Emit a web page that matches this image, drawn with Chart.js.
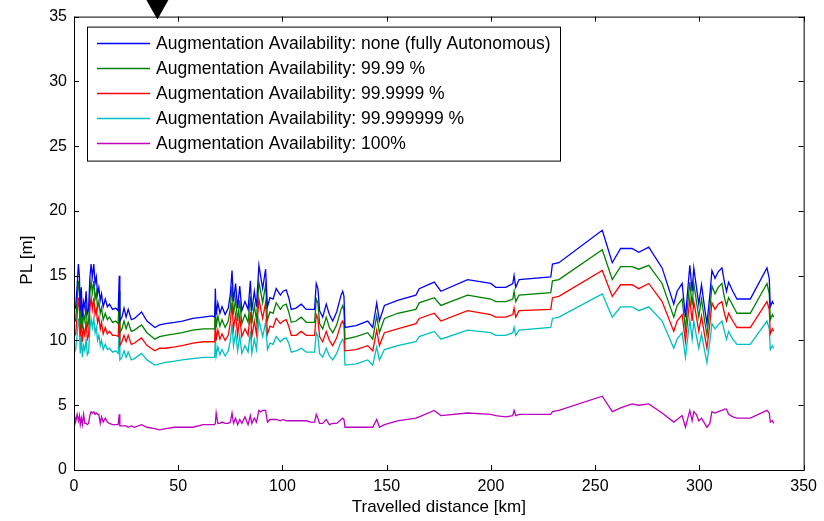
<!DOCTYPE html>
<html><head><meta charset="utf-8">
<script src="https://cdn.jsdelivr.net/npm/chart.js@4"></script>
<style>html,body{margin:0;padding:0;background:#fff}#wrap{width:824px;height:521px}</style>
</head><body><div id="wrap"><canvas id="c" width="824" height="521"></canvas></div>
<script>
const distanceKm = [0,0.8,1.5,2.1,2.6,3.0,3.5,4.0,4.6,5.2,
5.8,6.4,7.0,7.6,8.2,8.8,9.5,10.1,10.7,11.3,
11.9,12.6,13.2,14.0,15.0,16.0,17.0,18.5,20.0,21.2,
21.7,22.0,23.0,24.0,25.0,26.0,27.5,29.0,32.4,35.0,
38.8,41.0,44.0,48.3,52.0,57.0,62.0,66.3,67.5,67.8,
68.2,69.0,70.0,71.0,72.5,74.0,75.0,75.8,76.5,77.5,
78.5,79.5,80.5,82.0,83.5,84.6,85.3,86.5,87.5,88.7,
89.5,90.5,91.9,92.8,94.0,95.5,97.0,99.0,100.3,101.8,
103.0,104.2,106.5,109.0,111.4,113.5,115.4,116.2,117.0,117.8,
119.3,121.0,122.5,124.1,126.0,128.1,128.9,129.5,130.0,135.3,
140.9,143.3,145.2,146.5,148.9,155.2,164.0,165.6,172.8,176.0,
188.8,199.9,202.3,207.1,210.5,211.1,211.9,213.5,228.7,229.5,
232.6,253.4,258.2,262.2,267.7,270.9,275.7,282.1,287.7,289.3,
291.7,293.3,295.4,296.5,297.3,298.5,299.7,301.0,302.5,303.6,
305.0,306.0,307.5,309.0,310.8,312.0,313.0,314.0,316.0,318.0,
324.4,332.4,333.5,334.0,335.0,335.6];

const plNone = [12.3,12.6,14.2,15.9,15.0,12.3,14.1,11.8,13.0,12.5,
13.8,12.1,12.4,14.8,15.9,14.9,15.9,14.4,14.9,13.6,
14.1,13.1,13.6,12.6,13.2,12.6,12.8,12.4,12.5,12.3,
15.0,11.5,11.8,12.5,11.8,12.4,11.6,11.7,12.2,11.5,
11.0,11.2,11.3,11.4,11.5,11.7,11.8,11.9,11.8,14.0,
12.0,12.9,12.1,12.6,12.0,12.5,13.6,15.4,13.0,14.4,
12.5,14.2,12.3,13.0,12.4,14.6,12.3,13.8,12.6,15.8,
15.0,14.0,15.5,12.6,13.3,13.2,14.0,13.5,13.8,13.9,
13.3,12.4,12.5,12.8,12.4,12.4,12.4,14.4,14.0,12.3,
11.8,12.8,12.0,11.5,12.2,13.5,13.8,13.4,11.0,11.15,
11.5,11.0,12.9,11.5,12.7,13.1,13.5,14.0,14.5,13.8,
14.7,14.4,14.1,14.1,14.4,15.0,14.1,14.7,14.9,15.9,
16.0,18.5,16.0,17.1,17.1,16.8,17.2,15.6,12.8,13.8,
14.4,11.8,15.8,13.8,15.6,14.2,12.8,14.3,12.5,11.3,
13.5,15.4,14.8,15.3,15.6,14.5,13.8,14.5,13.8,13.2,
13.2,15.6,14.8,12.6,13.0,12.8];

const pl9999 = [11.3,11.6,13.1,14.6,13.8,11.3,13.0,10.9,12.0,11.5,
12.7,11.1,11.4,13.6,14.6,13.7,14.6,13.2,13.7,12.5,
13.0,12.1,12.5,11.6,12.1,11.6,11.8,11.4,11.5,11.3,
13.8,10.6,10.9,11.5,10.9,11.4,10.7,10.8,11.2,10.6,
10.1,10.3,10.4,10.5,10.6,10.8,10.9,10.9,10.9,12.9,
11.0,11.9,11.1,11.6,11.0,11.5,12.5,14.2,12.0,13.2,
11.5,13.1,11.3,12.0,11.4,13.4,11.3,12.7,11.6,14.5,
13.8,12.9,14.3,11.6,12.2,12.1,12.9,12.4,12.7,12.8,
12.2,11.4,11.5,11.8,11.4,11.4,11.4,13.2,12.9,11.3,
10.9,11.8,11.0,10.6,11.2,12.4,12.7,12.3,10.1,10.3,
10.6,10.1,11.9,10.6,11.7,12.1,12.4,12.9,13.3,12.7,
13.5,13.2,13.0,13.0,13.2,13.8,13.0,13.5,13.7,14.6,
14.7,17.0,14.7,15.7,15.7,15.5,15.8,14.4,11.8,12.7,
13.2,10.9,14.5,12.7,14.4,13.1,11.8,13.2,11.5,10.4,
12.4,14.2,13.6,14.1,14.4,13.3,12.7,13.3,12.7,12.1,
12.1,14.4,13.6,11.6,12.0,11.8];

const pl999999 = [10.3,10.5,11.9,13.3,12.5,10.3,11.8,9.9,10.9,10.4,
11.5,10.1,10.4,12.4,13.3,12.4,13.3,12.0,12.4,11.4,
11.8,10.9,11.4,10.5,11.0,10.5,10.7,10.4,10.4,10.3,
12.5,9.6,9.9,10.4,9.9,10.4,9.7,9.8,10.2,9.6,
9.2,9.4,9.4,9.5,9.6,9.8,9.9,9.9,9.9,11.7,
10.0,10.8,10.1,10.5,10.0,10.4,11.4,12.9,10.9,12.0,
10.4,11.9,10.3,10.9,10.4,12.2,10.3,11.5,10.5,13.2,
12.5,11.7,12.9,10.5,11.1,11.0,11.7,11.3,11.5,11.6,
11.1,10.4,10.4,10.7,10.4,10.4,10.4,12.0,11.7,10.3,
9.9,10.7,10.0,9.6,10.2,11.3,11.5,11.2,9.2,9.3,
9.6,9.2,10.8,9.6,10.6,10.9,11.3,11.7,12.1,11.5,
12.3,12.0,11.8,11.8,12.0,12.5,11.8,12.3,12.4,13.3,
13.4,15.4,13.4,14.3,14.3,14.0,14.4,13.0,10.7,11.5,
12.0,9.9,13.2,11.5,13.0,11.9,10.7,11.9,10.4,9.4,
11.3,12.9,12.4,12.8,13.0,12.1,11.5,12.1,11.5,11.0,
11.0,13.0,12.4,10.5,10.9,10.7];

const pl99999999 = [9.0,9.3,10.4,11.7,11.0,9.0,10.4,8.7,9.6,9.2,
10.1,8.9,9.1,10.9,11.7,11.0,11.7,10.6,11.0,10.0,
10.4,9.6,10.0,9.3,9.7,9.3,9.4,9.1,9.2,9.0,
11.0,8.5,8.7,9.2,8.7,9.1,8.5,8.6,9.0,8.5,
8.1,8.2,8.3,8.4,8.5,8.6,8.7,8.7,8.7,10.3,
8.8,9.5,8.9,9.3,8.8,9.2,10.0,11.3,9.6,10.6,
9.2,10.4,9.0,9.6,9.1,10.7,9.0,10.1,9.3,11.6,
11.0,10.3,11.4,9.3,9.8,9.7,10.3,9.9,10.1,10.2,
9.8,9.1,9.2,9.4,9.1,9.1,9.1,10.6,10.3,9.0,
8.7,9.4,8.8,8.5,9.0,9.9,10.1,9.8,8.1,8.2,
8.5,8.1,9.5,8.5,9.3,9.6,9.9,10.3,10.7,10.1,
10.8,10.6,10.4,10.4,10.6,11.0,10.4,10.8,11.0,11.7,
11.8,13.6,11.8,12.6,12.6,12.3,12.6,11.5,9.4,10.1,
10.6,8.7,11.6,10.1,11.5,10.4,9.4,10.5,9.2,8.3,
9.9,11.3,10.9,11.2,11.5,10.7,10.1,10.7,10.1,9.7,
9.7,11.5,10.9,9.3,9.6,9.4];

const pl100 = [4.5,3.7,4.3,3.8,4.2,3.5,4.0,3.5,4.3,3.6,
3.6,3.5,3.6,4.2,4.5,4.4,4.5,4.3,4.4,4.3,
4.3,3.6,4.1,3.7,4.0,3.7,3.6,3.5,3.5,3.5,
4.3,3.4,3.4,3.4,3.4,3.3,3.4,3.3,3.5,3.3,
3.2,3.1,3.2,3.3,3.3,3.3,3.5,3.5,3.5,3.6,
4.4,3.6,3.6,3.7,3.6,3.6,3.7,4.4,3.6,4.0,
3.5,3.9,3.6,4.1,3.5,4.2,3.6,4.0,3.7,4.6,
4.5,4.6,4.6,3.7,3.9,3.9,3.9,3.8,3.9,3.8,
3.8,3.8,3.8,3.8,3.8,3.7,3.7,4.3,4.0,3.6,
3.6,3.9,3.5,3.6,3.6,3.9,4.0,3.9,3.3,3.3,
3.3,3.3,3.9,3.3,3.5,3.8,4.0,4.1,4.6,4.2,
4.4,4.3,4.2,4.1,4.2,4.6,4.2,4.3,4.3,4.5,
4.6,5.7,4.5,4.8,5.1,5.0,5.1,4.4,3.7,3.9,
4.2,3.3,4.6,3.8,4.5,4.3,3.8,4.0,3.6,3.3,
3.6,4.5,4.4,4.5,4.6,4.7,4.7,4.3,4.1,4.0,
4.0,4.6,4.4,3.7,3.8,3.6];

const seriesLabels = [
  'Augmentation Availability: none (fully Autonomous)',
  'Augmentation Availability: 99.99 %',
  'Augmentation Availability: 99.9999 %',
  'Augmentation Availability: 99.999999 %',
  'Augmentation Availability: 100%'
];
const seriesColors = ['#0000ff','#008000','#ff0000','#00bfbf','#bf00bf'];
const seriesValues = [plNone, pl9999, pl999999, pl99999999, pl100];
const xTicks = [0,50,100,150,200,250,300,350];
const yTicks = [0,5,10,15,20,25,30,35];
const yTitle = 'PL [m]';

const FONT = 'Liberation Sans, Arial, Helvetica, sans-serif';

const datasets = seriesValues.map((vals, i) => ({
  label: seriesLabels[i],
  data: distanceKm.map((x, j) => ({x: x, y: vals[j]})),
  borderColor: seriesColors[i],
  backgroundColor: seriesColors[i],
  borderWidth: 1.3,
  pointRadius: 0,
  tension: 0,
  fill: false
}));

const matlabDecor = {
  id: 'matlabDecor',
  afterDatasetsDraw(chart) {
    const ctx = chart.ctx;
    const a = chart.chartArea;
    const xs = chart.scales.x, ys = chart.scales.y;
    ctx.save();
    ctx.strokeStyle = '#000';
    ctx.lineWidth = 1;
    ctx.strokeRect(a.left + 0.5, a.top + 0.5, a.right - a.left, a.bottom - a.top);
    const tl = 5;
    ctx.beginPath();
    xTicks.forEach(v => {
      const p = Math.round(xs.getPixelForValue(v)) + 0.5;
      ctx.moveTo(p, a.bottom); ctx.lineTo(p, a.bottom - tl);
      ctx.moveTo(p, a.top); ctx.lineTo(p, a.top + tl);
    });
    yTicks.forEach(v => {
      const p = Math.round(ys.getPixelForValue(v)) + 0.5;
      ctx.moveTo(a.left, p); ctx.lineTo(a.left + tl, p);
      ctx.moveTo(a.right, p); ctx.lineTo(a.right - tl, p);
    });
    ctx.stroke();
    // y axis title
    ctx.save();
    ctx.translate(27, ys.getPixelForValue(16.2));
    ctx.rotate(-Math.PI / 2);
    ctx.font = '17px ' + FONT;
    ctx.fillStyle = '#000';
    ctx.textAlign = 'center';
    ctx.textBaseline = 'middle';
    ctx.fillText(yTitle, 0, 0);
    ctx.restore();
    // legend
    const lx = a.left + 13, ly = a.top + 10, lw = 473, lh = 134;
    ctx.fillStyle = '#fff';
    ctx.fillRect(lx, ly, lw, lh);
    ctx.strokeRect(lx + 0.5, ly + 0.5, lw, lh);
    ctx.font = '17.5px ' + FONT;
    ctx.textBaseline = 'middle';
    ctx.textAlign = 'left';
    seriesLabels.forEach((lab, i) => {
      const yy = Math.round(ly + 16 + i * 25.2) + 0.5;
      ctx.strokeStyle = seriesColors[i];
      ctx.lineWidth = 1.3;
      ctx.beginPath();
      ctx.moveTo(lx + 10, yy); ctx.lineTo(lx + 63, yy);
      ctx.stroke();
      ctx.fillStyle = '#000';
      ctx.fillText(lab, lx + 69, yy + 1);
    });
    // black arrow marker above the axes
    const ax = xs.getPixelForValue(40);
    ctx.fillStyle = '#000';
    ctx.beginPath();
    ctx.moveTo(ax - 11, 0);
    ctx.lineTo(ax + 11, 0);
    ctx.lineTo(ax, a.top + 3);
    ctx.closePath();
    ctx.fill();
    ctx.restore();
  }
};

new Chart(document.getElementById('c'), {
  type: 'line',
  data: { datasets },
  options: {
    responsive: false,
    animation: false,
    devicePixelRatio: 1,
    layout: { padding: { top: 15, right: 19, left: 0, bottom: 0 } },
    plugins: { legend: { display: false }, tooltip: { enabled: false } },
    scales: {
      x: {
        type: 'linear', position: 'bottom', min: 0, max: 350,
        afterBuildTicks: s => { s.ticks = xTicks.map(v => ({value: v})); },
        afterFit: s => { s.height = 51; },
        grid: { display: false, drawTicks: false }, border: { display: false },
        ticks: { color: '#000', font: { family: FONT, size: 16 }, padding: 7, maxRotation: 0, autoSkip: false },
        title: { display: true, text: 'Travelled distance [km]', color: '#000', font: { family: FONT, size: 17 }, padding: { top: 0, bottom: 3 } }
      },
      y: {
        type: 'linear', position: 'left', min: 0, max: 35,
        afterBuildTicks: s => { s.ticks = yTicks.map(v => ({value: v})); },
        afterFit: s => { s.width = 74; },
        grid: { display: false, drawTicks: false }, border: { display: false },
        ticks: { color: '#000', font: { family: FONT, size: 16 }, padding: 7, autoSkip: false },
        title: { display: false }
      }
    }
  },
  plugins: [matlabDecor]
});
</script></body></html>
